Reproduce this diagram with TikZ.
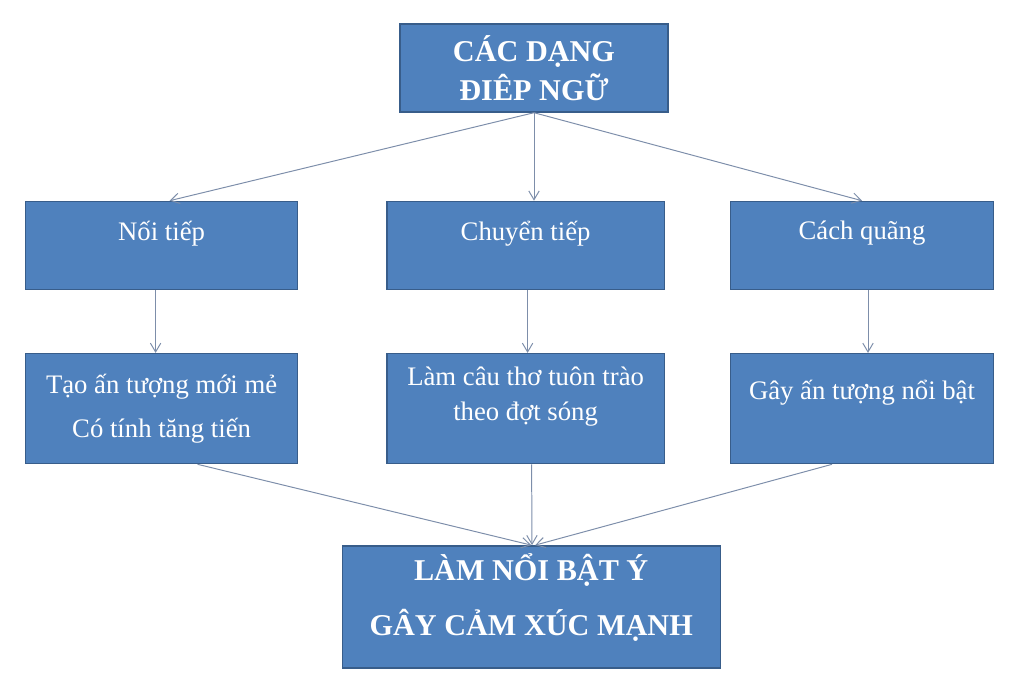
\documentclass[tikz,border=0pt]{standalone}
\usepackage{fontspec}
\setmainfont{Liberation Serif}
\usepackage{xcolor}
\usepackage{tikz}
\usetikzlibrary{shapes,arrows.meta,positioning}
\definecolor{boxfill}{HTML}{4F81BD}
\definecolor{boxline}{HTML}{385D8A}
\definecolor{linkcol}{RGB}{125,142,170}
\tikzstyle{block} = [draw=boxline,line width=1pt,fill=boxfill,rectangle,text=white,align=center,
    font=\fontsize{19}{23}\selectfont]
\tikzstyle{title} = [block,font=\fontsize{21.5}{25}\selectfont\bfseries]
\tikzstyle{arrow} = [draw=linkcol,line width=0.7pt,->,>={Straight Barb[length=2.2mm,width=2.6mm]}]

\begin{document}
\begin{tikzpicture}
        \useasboundingbox (0,0) rectangle (25.6,-17.35);
            % Define nodes
        \node[title,
        minimum width=6.7cm,
        minimum height=2.2cm] (head) at (13.35,-1.7) {CÁC DẠNG\\[3pt]ĐIÊP NGỮ};

        \node[block,
        below=2.2cm of head,
        xshift=-0.21cm,
        minimum width=6.93cm,
        minimum height=2.2cm,
        text depth=0.75cm] (middle1) {Chuyển tiếp};

        \node[block,
        left=2.2cm of middle1,
        minimum width=6.8cm,
        minimum height=2.2cm,
        text depth=0.75cm] (left1) {Nối tiếp};

        \node[block,
        right=1.62cm of middle1,
        minimum width=6.58cm,
        minimum height=2.2cm,
        text depth=0.75cm] (right1) {Cách quãng};

        \node[block,
        below=1.57cm of middle1,
        minimum width=6.93cm,
        minimum height=2.75cm,
        text depth=0.75cm] (middle2) {Làm câu thơ tuôn trào\\[2pt]theo đợt sóng};

        \node[block,
        below=1.57cm of left1,
        minimum width=6.8cm,
        minimum height=2.75cm] (left2) {Tạo ấn tượng mới mẻ\\[8pt]Có tính tăng tiến};

        \node[block,
        below=1.57cm of right1,
        minimum width=6.58cm,
        minimum height=2.75cm,
        text depth=0.95cm] (right2) {Gây ấn tượng nổi bật};

        \node[title,
        below=2.02cm of middle2,
        xshift=0.14cm,
        minimum width=9.45cm,
        minimum height=3.05cm,
        text depth=0.6cm] (result) {LÀM NỔI BẬT Ý\\[14pt]GÂY CẢM XÚC MẠNH};

        \draw [arrow] (head.south) -- ([xshift=0.2cm]left1.north);
        \draw [arrow] (head.south) -- (head.south |- middle1.north);
        \draw [arrow] (head.south) -- (right1.north);
        \draw [arrow] ([xshift=-0.15cm]left1.south) -- ([xshift=-0.15cm]left2.north);
        \draw [arrow] ([xshift=0.05cm]middle1.south) -- ([xshift=0.05cm]middle2.north);
        \draw [arrow] ([xshift=0.15cm]right1.south) -- ([xshift=0.15cm]right2.north);
        \draw [arrow] ([xshift=0.9cm]left2.south) -- (result.north);
        \draw [arrow] ([xshift=0.15cm]middle2.south) -- ([xshift=0.02cm]result.north);
        \draw [arrow] ([xshift=-0.75cm]right2.south) -- ([xshift=0.1cm]result.north);

        \end{tikzpicture}
\end{document}
